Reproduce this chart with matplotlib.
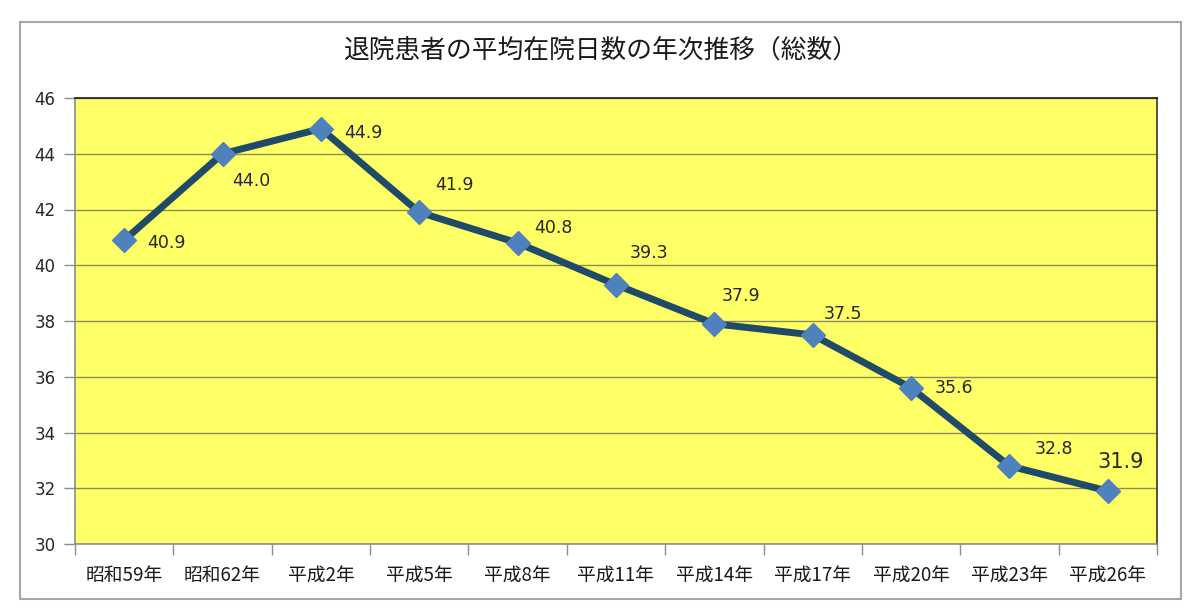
import numpy as np
import matplotlib
matplotlib.use("Agg")
import matplotlib.pyplot as plt
from matplotlib.patches import Rectangle

# data
years = ['昭和59年', '昭和62年', '平成2年', '平成5年', '平成8年', '平成11年',
         '平成14年', '平成17年', '平成20年', '平成23年', '平成26年']
avg_days = [40.9, 44.0, 44.9, 41.9, 40.8, 39.3, 37.9, 37.5, 35.6, 32.8, 31.9]
y_ticks = [30, 32, 34, 36, 38, 40, 42, 44, 46]

# label offsets (pixels) relative to each point
label_dx = [42, 29, 42, 35, 36, 33, 27, 30, 43, 44, 13]
label_dy = [-3, -27, -4, 27, 15, 32, 28, 21, 0, 17, 29]

jp = ['Noto Sans CJK JP', 'DejaVu Sans']

fig = plt.figure(figsize=(12, 6.16), dpi=100)
fig.patch.set_facecolor('white')

# outer chart border
fig.patches.append(Rectangle((20 / 1200, 1 - 599 / 616), 1161 / 1200, 577 / 616,
                             transform=fig.transFigure, fill=False,
                             edgecolor='#a6a6a6', linewidth=1.5))

ax = fig.add_axes([75 / 1200, 1 - 544 / 616, 1082 / 1200, 446 / 616])
ax.set_facecolor('#ffff66')

x = np.arange(len(years))
ax.plot(x, avg_days, color='#1f4a68', linewidth=5, zorder=3,
        marker='D', markersize=12, markerfacecolor='#4f81bd',
        markeredgecolor='#4f81bd', markeredgewidth=1)

for i, v in enumerate(avg_days):
    big = (i == len(avg_days) - 1)
    ax.annotate(f'{v:.1f}', (x[i], v), xytext=(label_dx[i], label_dy[i]),
                textcoords='offset pixels', ha='center', va='center',
                fontsize=15 if big else 12.5, color='#262626',
                family='DejaVu Sans', zorder=4)

ax.set_xlim(-0.5, len(years) - 0.5)
ax.set_ylim(30, 46)
ax.set_yticks(y_ticks)
ax.set_yticklabels([str(t) for t in y_ticks], fontsize=12, color='#262626')
ax.yaxis.grid(True, color='#8c8c5a', linewidth=1)
ax.set_axisbelow(True)

ax.set_xticks(x)
ax.set_xticklabels(years, family=jp, fontsize=13.5, color='#1a1a1a')
ax.set_xticks(np.arange(-0.5, len(years)), minor=True)
ax.tick_params(axis='x', which='major', length=0, pad=15)
ax.tick_params(axis='x', which='minor', length=8, color='#8c8c8c', width=1)
ax.tick_params(axis='y', length=8, color='#8c8c8c', width=1, pad=6)

for s in ['left', 'bottom']:
    ax.spines[s].set_color('#8c8c8c')
ax.spines['top'].set_color('#1a1a1a')
ax.spines['right'].set_color('#333333')
for s in ax.spines.values():
    s.set_linewidth(1.2)

fig.text(601 / 1200, 1 - 51 / 616, '退院患者の平均在院日数の年次推移（総数）',
         ha='center', va='center', fontsize=18.5, family=jp, color='#1a1a1a')

fig.savefig('out.png', dpi=100)
